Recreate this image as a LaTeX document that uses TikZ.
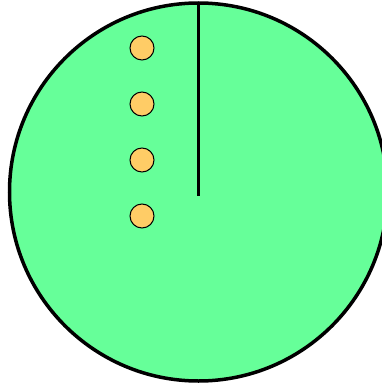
\documentclass[tikz,border=0pt]{standalone}
\definecolor{plate}{HTML}{66FF99}
\definecolor{dotfill}{HTML}{FFCC66}
\begin{document}
\begin{tikzpicture}[x=1pt,y=-1pt,
  dot/.style={circle,draw=black,fill=dotfill,line width=1pt,minimum size=24pt,inner sep=0pt},
  plate/.style={fill=plate,draw=black,line width=3.5pt}]
\useasboundingbox (0,0) rectangle (382,385);
\clip (0,0) rectangle (382,385);
\coordinate (c) at (198.5,192);
\draw[plate] (c) circle[radius=189];
\coordinate (top) at (198.5,3);
\coordinate (bot) at (198.5,196);
\draw[line width=3.2pt] (top) -- (bot);
\node[dot] (d1) at (142,48) {};
\node[dot] (d2) at (142,104) {};
\node[dot] (d3) at (142,160) {};
\node[dot] (d4) at (142,216) {};
\end{tikzpicture}
\end{document}
